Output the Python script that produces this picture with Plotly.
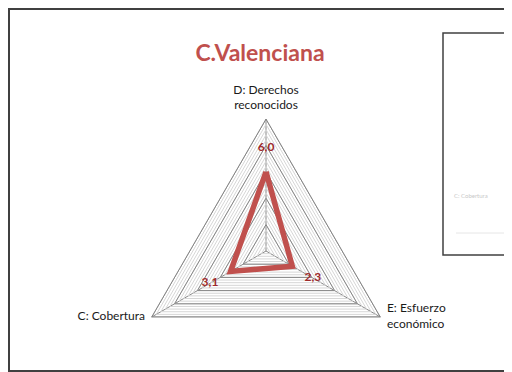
import plotly.graph_objects as go

# data
categories = ["D: Derechos<br>reconocidos", "E: Esfuerzo<br>económico", "C: Cobertura"]
values = [6.0, 2.3, 3.1]
value_labels = ["6,0", "2,3", "3,1"]
major_rings = [2, 4, 6, 8, 10]
minor_step = 0.4
r_max = 10

RED = "#C0504D"
GRID = "#868686"
W, H = 512, 400  # page body adds an 8px offset, lower part falls outside the window

theta_closed = categories + categories[:1]
minor_ticks = [round(i * minor_step, 2) for i in range(1, int(r_max / minor_step) + 1)]


def px(x):
    return x / W


def py(y):
    return 1 - y / H


fig = go.Figure()

for ring in major_rings:
    fig.add_trace(go.Scatterpolar(
        r=[ring] * len(theta_closed), theta=theta_closed,
        mode="lines", line=dict(color=GRID, width=1),
        hoverinfo="skip", showlegend=False
    ))

fig.add_trace(go.Scatterpolar(
    r=values + values[:1], theta=theta_closed,
    mode="lines", line=dict(color=RED, width=5.5),
    name="C.Valenciana", showlegend=False
))

# labels sit a little outside each point
fig.add_trace(go.Scatterpolar(
    r=[v + 1.8 for v in values], theta=categories,
    mode="text", text=value_labels,
    textfont=dict(family="Lato", size=12, color="#9E2A2B", weight="bold"),
    hoverinfo="skip", showlegend=False
))

# category names at the vertices; an invisible marker gives them some padding
fig.add_trace(go.Scatterpolar(
    r=[r_max] * len(categories), theta=categories,
    mode="markers+text", text=categories, cliponaxis=False,
    marker=dict(size=9, color="rgba(0,0,0,0)"),
    textposition=["top center", "middle right", "middle left"],
    textfont=dict(family="Lato", size=12, color="#1a1a1a"),
    hoverinfo="skip", showlegend=False
))

fig.update_layout(
    width=W, height=H,
    margin=dict(l=0, r=0, t=0, b=0),
    paper_bgcolor="white",
    font=dict(family="Lato", size=12, color="#1a1a1a"),
    title=dict(text="<b>C.Valenciana</b>", x=px(252), xanchor="center",
               y=py(45), yanchor="middle",
               font=dict(family="Lato", size=23, color=RED)),
    polar=dict(
        domain=dict(x=[px(126), px(390)], y=[py(375), py(111)]),
        gridshape="linear",
        bgcolor="white",
        radialaxis=dict(range=[0, r_max], tickvals=minor_ticks, showticklabels=False,
                        ticks="", showline=False, gridcolor="#D6D6D6", gridwidth=1),
        angularaxis=dict(rotation=90, direction="clockwise", ticks="",
                         showticklabels=False,
                         showline=True, linecolor=GRID, linewidth=1,
                         gridcolor=GRID, gridwidth=1),
    ),
    shapes=[
        dict(type="rect", xref="paper", yref="paper", x0=px(1), x1=1.05,
             y0=py(363), y1=py(1), line=dict(color="#404040", width=2)),
        dict(type="rect", xref="paper", yref="paper", x0=px(435), x1=1.05,
             y0=py(247), y1=py(25), line=dict(color="#404040", width=1.5)),
        dict(type="line", xref="paper", yref="paper", x0=px(448), x1=1.0,
             y0=py(225), y1=py(225), line=dict(color="#E6E6E6", width=1)),
    ],
    annotations=[
        dict(text="C: Cobertura", xref="paper", yref="paper", x=px(444), y=py(187),
             xanchor="left", yanchor="middle", showarrow=False,
             font=dict(family="Lato", size=6, color="#C8C8C8")),
    ],
)

fig.write_html("out.html")
